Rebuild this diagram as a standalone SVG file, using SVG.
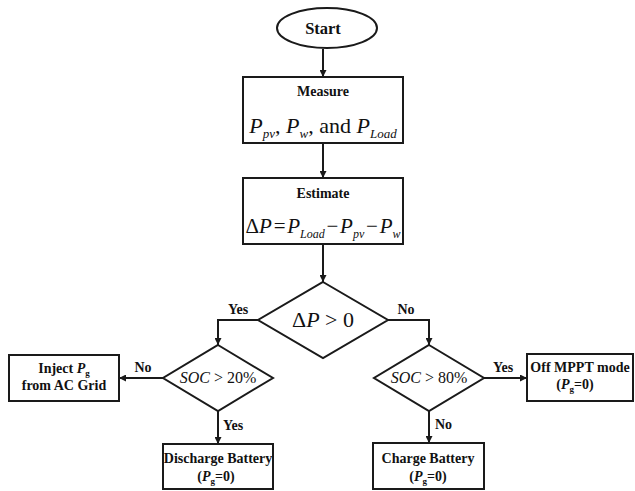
<svg xmlns="http://www.w3.org/2000/svg" width="635" height="491" viewBox="0 0 635 491">
<defs>
<style>
.shape{fill:#fff;stroke:#1a1a1a;stroke-width:2}
.conn{fill:none;stroke:#1a1a1a;stroke-width:2}
.lbl{font-family:"Liberation Serif","Times New Roman",serif;font-weight:bold;font-size:14px;fill:#111}
.math{font-family:"Liberation Serif","Times New Roman",serif;font-size:22px;fill:#111}
.soc{font-family:"Liberation Serif","Times New Roman",serif;font-size:16px;fill:#111}
.it{font-style:italic}
</style>
<marker id="ah" markerUnits="userSpaceOnUse" markerWidth="8" markerHeight="7" refX="7" refY="3.5" orient="auto">
<path d="M0,0 L7,3.5 L0,7 z" fill="#1a1a1a"/>
</marker>
</defs>
<rect width="635" height="491" fill="#fff"/>

<g id="connectors">
<line class="conn" x1="323" y1="49" x2="323" y2="77" marker-end="url(#ah)"/>
<line class="conn" x1="323" y1="143" x2="323" y2="178" marker-end="url(#ah)"/>
<line class="conn" x1="323" y1="244" x2="323" y2="282" marker-end="url(#ah)"/>
<polyline class="conn" points="258,320 218,320 218,345" marker-end="url(#ah)"/>
<polyline class="conn" points="388,320 429,320 429,345" marker-end="url(#ah)"/>
<line class="conn" x1="163" y1="378" x2="119" y2="378" marker-end="url(#ah)"/>
<line class="conn" x1="218" y1="411" x2="218" y2="444" marker-end="url(#ah)"/>
<line class="conn" x1="484" y1="378" x2="527" y2="378" marker-end="url(#ah)"/>
<line class="conn" x1="429" y1="411" x2="429" y2="443" marker-end="url(#ah)"/>
<text class="lbl" x="238" y="314" text-anchor="middle">Yes</text>
<text class="lbl" x="406" y="314" text-anchor="middle">No</text>
<text class="lbl" x="143" y="372" text-anchor="middle">No</text>
<text class="lbl" x="223" y="430">Yes</text>
<text class="lbl" x="503" y="372" text-anchor="middle">Yes</text>
<text class="lbl" x="435" y="429">No</text>
</g>

<g id="start">
<ellipse class="shape" cx="327" cy="28" rx="50" ry="20"/>
<text class="lbl" x="323" y="34" text-anchor="middle" style="font-size:16.5px">Start</text>
</g>

<g id="measure">
<rect class="shape" x="243" y="77" width="160" height="66"/>
<text class="lbl" x="323" y="96" text-anchor="middle">Measure</text>
<text class="math" x="323" y="133" text-anchor="middle"><tspan class="it">P</tspan><tspan class="it" font-size="13" dy="5">pv</tspan><tspan dy="-5">, </tspan><tspan class="it">P</tspan><tspan class="it" font-size="13" dy="5">w</tspan><tspan dy="-5">, and </tspan><tspan class="it">P</tspan><tspan class="it" font-size="13" dy="5">Load</tspan></text>
</g>

<g id="estimate">
<rect class="shape" x="243" y="178" width="160" height="66"/>
<text class="lbl" x="323" y="198" text-anchor="middle">Estimate</text>
<text class="math" x="323" y="233" text-anchor="middle" style="font-size:21px">Δ<tspan class="it">P</tspan><tspan>&#x200A;=&#x200A;</tspan><tspan class="it">P</tspan><tspan class="it" font-size="12" dy="5">Load</tspan><tspan dy="-5">&#x200A;−&#x200A;</tspan><tspan class="it">P</tspan><tspan class="it" font-size="12" dy="5">pv</tspan><tspan dy="-5">&#x200A;−&#x200A;</tspan><tspan class="it">P</tspan><tspan class="it" font-size="12" dy="5">w</tspan></text>
</g>

<g id="dp">
<polygon class="shape" points="323,282 388,320 323,358 258,320"/>
<text class="math" x="323" y="327" text-anchor="middle">Δ<tspan class="it">P</tspan> &gt; 0</text>
</g>

<g id="soc20">
<polygon class="shape" points="218,345 273,378 218,411 163,378"/>
<text class="soc" x="218" y="383" text-anchor="middle"><tspan class="it">SOC</tspan> &gt; 20%</text>
</g>

<g id="soc80">
<polygon class="shape" points="429,345 484,378 429,411 374,378"/>
<text class="soc" x="429" y="383" text-anchor="middle"><tspan class="it">SOC</tspan> &gt; 80%</text>
</g>

<g id="inject">
<rect class="shape" x="9" y="355" width="110" height="46"/>
<text class="lbl" x="64" y="373" text-anchor="middle">Inject <tspan class="it">P</tspan><tspan font-size="9" dy="3">g</tspan></text>
<text class="lbl" x="64" y="390" text-anchor="middle">from AC Grid</text>
</g>

<g id="discharge">
<rect class="shape" x="163" y="444" width="110" height="45"/>
<text class="lbl" x="218" y="463" text-anchor="middle">Discharge Battery</text>
<text class="lbl" x="216" y="481" text-anchor="middle">(<tspan class="it">P</tspan><tspan font-size="9" dy="3">g</tspan><tspan dy="-3">=0)</tspan></text>
</g>

<g id="offmppt">
<rect class="shape" x="527" y="354" width="106" height="47"/>
<text class="lbl" x="580" y="372" text-anchor="middle">Off MPPT mode</text>
<text class="lbl" x="575" y="389" text-anchor="middle">(<tspan class="it">P</tspan><tspan font-size="9" dy="3">g</tspan><tspan dy="-3">=0)</tspan></text>
</g>

<g id="charge">
<rect class="shape" x="373" y="443" width="111" height="46"/>
<text class="lbl" x="428" y="463" text-anchor="middle">Charge Battery</text>
<text class="lbl" x="428" y="481" text-anchor="middle">(<tspan class="it">P</tspan><tspan font-size="9" dy="3">g</tspan><tspan dy="-3">=0)</tspan></text>
</g>
</svg>
